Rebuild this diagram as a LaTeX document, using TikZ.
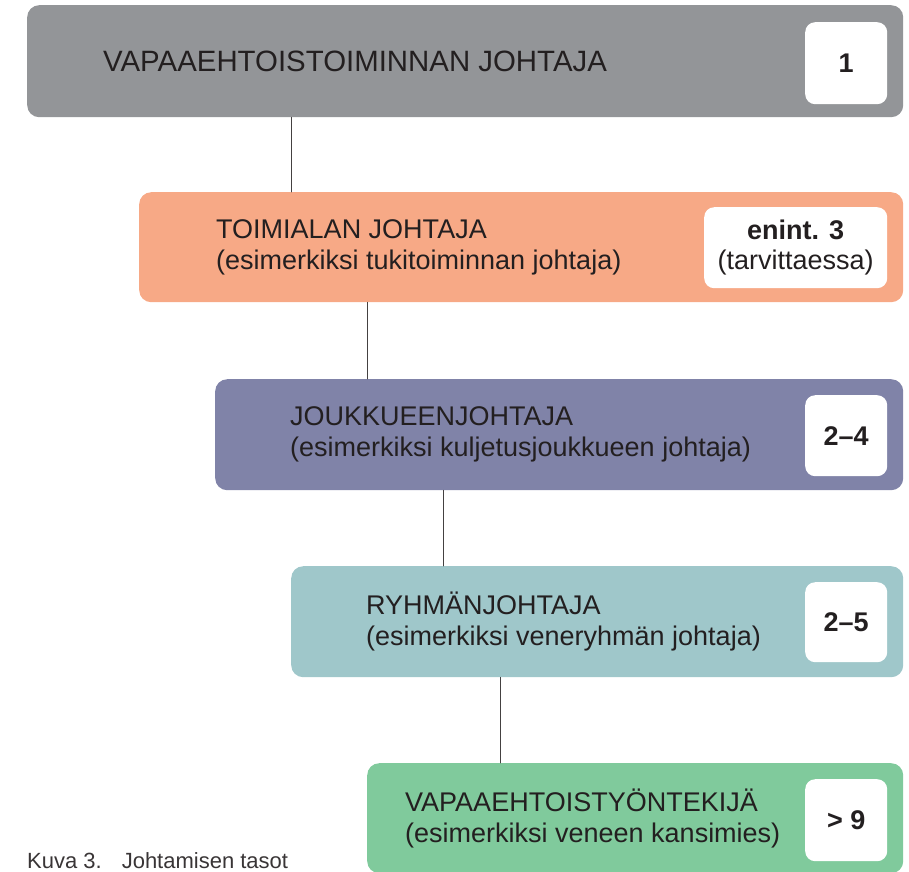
\documentclass[tikz,border=0pt]{standalone}
\usepackage{fontspec}
\setmainfont{Liberation Sans}
\usetikzlibrary{positioning,calc}
\definecolor{leadgray}{HTML}{939598}
\definecolor{areasalmon}{HTML}{F7A986}
\definecolor{squadpurple}{HTML}{8083A8}
\definecolor{groupteal}{HTML}{9FC7CA}
\definecolor{crewgreen}{HTML}{80CA9C}
\definecolor{ink}{HTML}{231F20}
\begin{document}
\begin{tikzpicture}[x=1pt,y=-1pt,line cap=round,line join=round,font=\fontsize{27}{31}\selectfont]
		\tikzset{level/.style={rounded corners=12pt,inner sep=0pt,anchor=north west},
			countbox/.style={fill=white,rounded corners=10pt,inner sep=0pt,minimum width=82pt,minimum height=82pt,anchor=north east,text=ink,font=\fontsize{27}{30}\selectfont\bfseries,align=center},
			title/.style={anchor=west,align=left,inner sep=0pt,text=ink},
			link/.style={draw=ink!85,line width=0.9pt}}
		\useasboundingbox (0,0) rectangle (909,871);
		\begin{scope}
		\clip (0,0) rectangle (909,871);
		% levels
		\node[level,fill=leadgray,minimum width=876pt,minimum height=112pt] (lead) at (27,5) {};
		\node[level,fill=areasalmon,minimum width=764pt,minimum height=110pt] (area) at (139,192) {};
		\node[level,fill=squadpurple,minimum width=688pt,minimum height=111pt] (squad) at (215,379) {};
		\node[level,fill=groupteal,minimum width=612pt,minimum height=111pt] (group) at (291,566) {};
		\node[level,fill=crewgreen,minimum width=536pt,minimum height=110pt] (crew) at (367,763) {};
		% texts
		\node[title,font=\fontsize{29.4}{32}\selectfont] (leadtext) at ([xshift=76pt]lead.west) {VAPAAEHTOISTOIMINNAN JOHTAJA};
		\node[title] (areatext) at ([xshift=77pt]area.west) {TOIMIALAN JOHTAJA\\(esimerkiksi tukitoiminnan johtaja)};
		\node[title] (squadtext) at ([xshift=75pt]squad.west) {JOUKKUEENJOHTAJA\\(esimerkiksi kuljetusjoukkueen johtaja)};
		\node[title] (grouptext) at ([xshift=75pt]group.west) {RYHMÄNJOHTAJA\\(esimerkiksi veneryhmän johtaja)};
		\node[title] (crewtext) at ([xshift=38pt]crew.west) {VAPAAEHTOISTYÖNTEKIJÄ\\(esimerkiksi veneen kansimies)};
		% counts
		\node[countbox] (leadcount) at ([xshift=-16pt,yshift=-17pt]lead.north east) {1};
		\node[countbox,minimum width=183pt,minimum height=81pt] (areacount) at ([xshift=-16pt,yshift=-15pt]area.north east) {enint. 3\\\mdseries(tarvittaessa)};
		\node[countbox,minimum height=81pt] (squadcount) at ([xshift=-16pt,yshift=-16pt]squad.north east) {2–4};
		\node[countbox,minimum height=80pt] (groupcount) at ([xshift=-16pt,yshift=-16pt]group.north east) {2–5};
		\node[countbox] (crewcount) at ([xshift=-16pt,yshift=-16pt]crew.north east) {> 9};
		% links
		\draw[link] ([xshift=264pt]lead.south west) -- ([xshift=152pt]area.north west);
		\draw[link] ([xshift=228pt]area.south west) -- ([xshift=152pt]squad.north west);
		\draw[link] ([xshift=228pt]squad.south west) -- ([xshift=152pt]group.north west);
		\draw[link] ([xshift=209pt]group.south west) -- ([xshift=133pt]crew.north west);
		% caption
		\node[anchor=base west,inner sep=0pt,text=ink!90,font=\fontsize{22}{26}\selectfont] (caption) at (27,868) {Kuva 3.\hspace{20pt}Johtamisen tasot};
		\end{scope}
\end{tikzpicture}
\end{document}
